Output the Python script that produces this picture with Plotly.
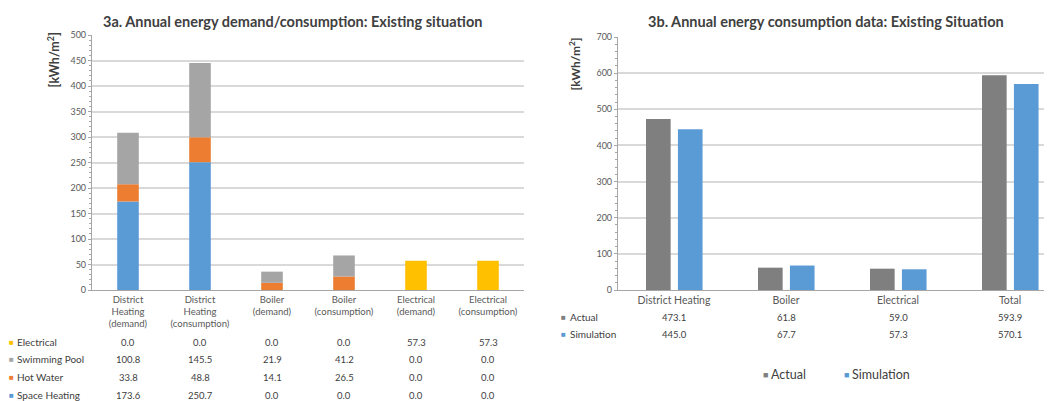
import numpy as np
import plotly.graph_objects as go

# ---------------- data ----------------
cats_a = ["DH_d", "DH_c", "B_d", "B_c", "E_d", "E_c"]
cat_labels_a = ["District<br>Heating<br>(demand)", "District<br>Heating<br>(consumption)",
                "Boiler<br>(demand)", "Boiler<br>(consumption)",
                "Electrical<br>(demand)", "Electrical<br>(consumption)"]
space_heating = [173.6, 250.7, 0.0, 0.0, 0.0, 0.0]
hot_water = [33.8, 48.8, 14.1, 26.5, 0.0, 0.0]
swimming_pool = [100.8, 145.5, 21.9, 41.2, 0.0, 0.0]
electrical = [0.0, 0.0, 0.0, 0.0, 57.3, 57.3]

cats_b = ["District Heating", "Boiler", "Electrical", "Total"]
actual = [473.1, 61.8, 59.0, 593.9]
simulation = [445.0, 67.7, 57.3, 570.1]

yticks_a = list(range(0, 501, 50))
yticks_b = list(range(0, 701, 100))

title_a = "3a. Annual energy demand/consumption: Existing situation"
title_b = "3b. Annual energy consumption data: Existing Situation"
ylabel = "[kWh/m<sup>2</sup>]"

# ---------------- styles ----------------
OFF = 8  # default page body margin
W, H = 1052 - OFF, 401 - OFF
FONT = "Lato"
C_BLUE = "#5B9BD5"
C_ORANGE = "#ED7D31"
C_GRAY = "#A5A5A5"
C_YELLOW = "#FFC000"
C_DGRAY = "#7F7F7F"
TXT = "#404040"
GRID = "#D9D9D9"
AX = "#A6A6A6"


def py(p):
    return 1 - (p - OFF) / H


def px(p):
    return (p - OFF) / W


fig = go.Figure()

# left chart: stacked (bases computed from data)
stack_series = [("Space Heating", space_heating, C_BLUE),
                ("Hot Water", hot_water, C_ORANGE),
                ("Swimming Pool", swimming_pool, C_GRAY),
                ("Electrical", electrical, C_YELLOW)]
base = np.zeros(len(cats_a))
for name, vals, col in stack_series:
    fig.add_trace(go.Bar(x=cats_a, y=vals, base=base.copy(), name=name,
                         marker=dict(color=col, line=dict(width=0)),
                         width=0.30, xaxis="x", yaxis="y", showlegend=False))
    base = base + np.array(vals)

# right chart: grouped
fig.add_trace(go.Bar(x=cats_b, y=actual, name="Actual", marker=dict(color=C_DGRAY, line=dict(width=0)),
                     width=0.22, offset=-0.25, xaxis="x2", yaxis="y2", showlegend=False))
fig.add_trace(go.Bar(x=cats_b, y=simulation, name="Simulation", marker=dict(color=C_BLUE, line=dict(width=0)),
                     width=0.22, offset=0.035, xaxis="x2", yaxis="y2", showlegend=False))

ydom = [py(290), py(35)]
ydom2 = [py(290), py(37)]

axis_common = dict(showline=True, linecolor=AX, linewidth=1.2, zeroline=False, automargin=False)

fig.update_layout(
    width=W, height=H, margin=dict(l=0, r=0, t=0, b=0, pad=0, autoexpand=False),
    paper_bgcolor="white", plot_bgcolor="white",
    barmode="overlay",
    font=dict(family=FONT, color=TXT, size=10),
    xaxis=dict(domain=[px(92), px(524)], range=[-0.5, 5.5], type="category",
               tickvals=cats_a, ticktext=cat_labels_a, tickfont=dict(size=9.5, color="#595959"),
               ticks="", showgrid=False, anchor="y", **axis_common),
    yaxis=dict(domain=ydom, range=[0, 500], tickvals=yticks_a, showgrid=True, gridcolor=GRID, gridwidth=1.5,
               tickfont=dict(size=9, color="#595959"), ticks="outside", ticklen=3, tickcolor=AX,
               minor=dict(dtick=10, ticks="outside", ticklen=2, tickcolor=AX, showgrid=False),
               anchor="x", **axis_common),
    xaxis2=dict(domain=[px(618), 1.0], range=[-0.5, 3.375], type="category",
                tickfont=dict(size=10.5, color="#595959"), ticks="", showgrid=False, anchor="y2", **axis_common),
    yaxis2=dict(domain=ydom2, range=[0, 700], tickvals=yticks_b, showgrid=True, gridcolor=GRID, gridwidth=1.5,
                tickfont=dict(size=9, color="#595959"), ticks="outside", ticklen=3, tickcolor=AX,
                minor=dict(dtick=20, ticks="outside", ticklen=2, tickcolor=AX, showgrid=False),
                anchor="x2", **axis_common),
)

ann = []
# titles
ann.append(dict(text="<b>" + title_a + "</b>", x=px(292), y=py(22), xref="paper", yref="paper",
                xanchor="center", yanchor="middle",
                showarrow=False, font=dict(size=14.5, color=TXT, family=FONT)))
ann.append(dict(text="<b>" + title_b + "</b>", x=px(826), y=py(22), xref="paper", yref="paper",
                xanchor="center", yanchor="middle",
                showarrow=False, font=dict(size=14.5, color=TXT, family=FONT)))
# y labels
ann.append(dict(text="<b>" + ylabel + "</b>", x=px(53), y=py(31), xref="paper", yref="paper",
                textangle=-90, xanchor="center", yanchor="top", showarrow=False, font=dict(size=12.5, color=TXT)))
ann.append(dict(text="<b>" + ylabel + "</b>", x=px(575), y=py(36), xref="paper", yref="paper",
                textangle=-90, xanchor="center", yanchor="top", showarrow=False, font=dict(size=12, color=TXT)))

# left data table
rows_a = [("Electrical", electrical, C_YELLOW, 342),
          ("Swimming Pool", swimming_pool, C_GRAY, 359),
          ("Hot Water", hot_water, C_ORANGE, 377),
          ("Space Heating", space_heating, C_BLUE, 395)]
for name, vals, col, yy in rows_a:
    ann.append(dict(text="■", x=px(7), y=py(yy), xref="paper", yref="paper", xanchor="left", yanchor="middle",
                    showarrow=False, font=dict(size=8, color=col)))
    ann.append(dict(text=name, x=px(15), y=py(yy), xref="paper", yref="paper", xanchor="left", yanchor="middle",
                    showarrow=False, font=dict(size=10, color=TXT)))
    for c, v in zip(cats_a, vals):
        ann.append(dict(text=f"{v:.1f}", x=c, y=py(yy), xref="x", yref="paper", xanchor="center",
                        yanchor="middle", showarrow=False, font=dict(size=9.5, color=TXT)))

# right data table
rows_b = [("Actual", actual, C_DGRAY, 317), ("Simulation", simulation, C_BLUE, 334)]
for name, vals, col, yy in rows_b:
    ann.append(dict(text="■", x=px(559), y=py(yy), xref="paper", yref="paper", xanchor="left", yanchor="middle",
                    showarrow=False, font=dict(size=8, color=col)))
    ann.append(dict(text=name, x=px(568), y=py(yy), xref="paper", yref="paper", xanchor="left", yanchor="middle",
                    showarrow=False, font=dict(size=10, color=TXT)))
    for c, v in zip(cats_b, vals):
        ann.append(dict(text=f"{v:.1f}", x=c, y=py(yy), xref="x2", yref="paper", xanchor="center",
                        yanchor="middle", showarrow=False, font=dict(size=9.5, color=TXT)))

# right legend
for name, col, x0 in [("Actual", C_DGRAY, 761), ("Simulation", C_BLUE, 842)]:
    ann.append(dict(text="■", x=px(x0), y=py(374), xref="paper", yref="paper", xanchor="left", yanchor="middle",
                    showarrow=False, font=dict(size=9, color=col)))
    ann.append(dict(text=name, x=px(x0 + 8), y=py(374), xref="paper", yref="paper", xanchor="left",
                    yanchor="middle", showarrow=False, font=dict(size=12.5, color=TXT)))

fig.update_layout(annotations=ann)
fig.write_html("out.html")
